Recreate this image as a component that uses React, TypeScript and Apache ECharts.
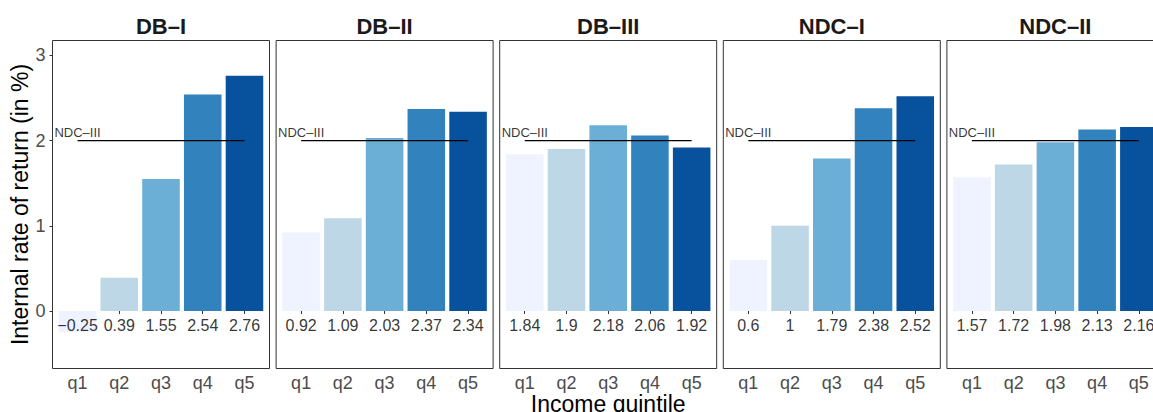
import React, { useEffect, useRef } from "react";
import * as echarts from "echarts";

// Pension schemes (facets) and income quintiles (bars within each facet)
const SCHEMES = ["DB–I", "DB–II", "DB–III", "NDC–I", "NDC–II"];
const QUINTILES = ["q1", "q2", "q3", "q4", "q5"];

// Internal rate of return (in %) by quintile, per scheme
const DB_I = [-0.25, 0.39, 1.55, 2.54, 2.76];
const DB_II = [0.92, 1.09, 2.03, 2.37, 2.34];
const DB_III = [1.84, 1.9, 2.18, 2.06, 1.92];
const NDC_I = [0.6, 1, 1.79, 2.38, 2.52];
const NDC_II = [1.57, 1.72, 1.98, 2.13, 2.16];
const IRR = [DB_I, DB_II, DB_III, NDC_I, NDC_II];

// Reference scheme drawn as a horizontal line in every facet
const NDC_III = 2;
const REF_NAME = "NDC–III";

const Y_TICKS = [0, 1, 2, 3];
const QUINTILE_COLORS = ["#EFF3FF", "#BDD7E7", "#6BAED6", "#3182BD", "#08519C"];

// Layout
const FONT = "'Liberation Sans', Arial, Helvetica, sans-serif";
const PANEL_LEFT = 52.5;
const PANEL_STEP = 223.6;
const PANEL_W = 217;
const PANEL_TOP = 40.5;
const PANEL_H = 328;
const UNIT = PANEL_W / 5.2; // category band incl. 0.6 band padding on both sides
const Y_MIN = -0.675;
const Y_MAX = 3.175;
const VALUE_LABEL_Y = -0.165;
const REF_LABEL_Y = 2.1;

const fmt = (v: number) => (v < 0 ? "\u2212" + Math.abs(v) : String(v));

export default function App() {
  const ref = useRef<HTMLDivElement>(null);

  useEffect(() => {
    if (!ref.current) return;
    const chart = echarts.init(ref.current, undefined, { renderer: "svg" });
    const panelX = (i: number) => PANEL_LEFT + i * PANEL_STEP;

    const grid = SCHEMES.map((_, i) => ({
      left: panelX(i) + 0.1 * UNIT,
      top: PANEL_TOP,
      width: 5 * UNIT,
      height: PANEL_H,
      show: false,
      containLabel: false,
      outerBoundsMode: "none",
    }));

    const xAxis = SCHEMES.map((_, i) => ({
      type: "category",
      gridIndex: i,
      data: QUINTILES,
      boundaryGap: true,
      axisLine: { show: false },
      axisTick: { show: true, alignWithLabel: true, length: 3, lineStyle: { color: "#333", width: 1 } },
      axisLabel: { color: "#4d4d4d", fontSize: 18, margin: 5, fontFamily: FONT },
      splitLine: { show: false },
      ...(i === 2
        ? {
            name: "Income quintile",
            nameLocation: "middle",
            nameGap: 24,
            nameMoveOverlap: false,
            nameTextStyle: { fontSize: 23, color: "#000", fontFamily: FONT },
          }
        : {}),
    }));

    const yAxis = SCHEMES.map((_, i) => ({
      type: "value",
      gridIndex: i,
      min: Y_MIN,
      max: Y_MAX,
      show: i === 0,
      offset: 0.1 * UNIT,
      axisLine: { show: false },
      axisTick: { show: true, length: 3, customValues: Y_TICKS, lineStyle: { color: "#333", width: 1 } },
      axisLabel: { customValues: Y_TICKS, color: "#4d4d4d", fontSize: 18, margin: 7, fontFamily: FONT },
      splitLine: { show: false },
      ...(i === 0
        ? {
            name: "Internal rate of return (in %)",
            nameLocation: "middle",
            nameRotate: 90,
            nameGap: 16,
            nameTextStyle: { fontSize: 23, color: "#000", fontFamily: FONT },
          }
        : {}),
    }));

    const series: any[] = [];
    IRR.forEach((vals, i) => {
      series.push({
        type: "bar",
        xAxisIndex: i,
        yAxisIndex: i,
        barWidth: "90%",
        data: vals.map((v, j) => ({ value: v, itemStyle: { color: QUINTILE_COLORS[j] } })),
        z: 2,
      });
      series.push({
        type: "line",
        xAxisIndex: i,
        yAxisIndex: i,
        data: [
          [QUINTILES[0], NDC_III],
          [QUINTILES[QUINTILES.length - 1], NDC_III],
        ],
        symbol: "none",
        lineStyle: { color: "#000", width: 1.2 },
        z: 3,
      });
      series.push({
        type: "scatter",
        xAxisIndex: i,
        yAxisIndex: i,
        data: vals.map((v, j) => [QUINTILES[j], VALUE_LABEL_Y, v]),
        symbolSize: 1,
        itemStyle: { color: "transparent" },
        label: {
          show: true,
          position: "inside",
          formatter: (p: any) => fmt(p.value[2]),
          color: "#000",
          fontSize: 16,
          fontFamily: FONT,
        },
        z: 4,
      });
      series.push({
        type: "scatter",
        xAxisIndex: i,
        yAxisIndex: i,
        data: [[QUINTILES[0], REF_LABEL_Y]],
        symbolSize: 1,
        itemStyle: { color: "transparent" },
        label: {
          show: true,
          position: "inside",
          formatter: REF_NAME,
          color: "#000",
          fontSize: 13,
          fontFamily: FONT,
        },
        z: 4,
      });
    });

    const graphic: any[] = [];
    SCHEMES.forEach((s, i) => {
      graphic.push({
        type: "rect",
        shape: { x: panelX(i), y: PANEL_TOP, width: PANEL_W, height: PANEL_H },
        style: { fill: "none", stroke: "#333", lineWidth: 1 },
        silent: true,
        z: 10,
      });
      graphic.push({
        type: "text",
        x: panelX(i) + PANEL_W / 2,
        y: 26,
        style: {
          text: s,
          fontSize: 22,
          fontWeight: "bold",
          fill: "#1a1a1a",
          align: "center",
          verticalAlign: "middle",
          fontFamily: FONT,
        },
        z: 10,
      });
    });

    chart.setOption({
      animation: false,
      backgroundColor: "#fff",
      textStyle: { fontFamily: FONT },
      grid,
      xAxis,
      yAxis,
      series,
      graphic,
    });

    return () => chart.dispose();
  }, []);

  return (
    <div
      ref={ref}
      style={{ position: "absolute", left: 0, top: 0, width: 1153, height: 412 }}
    />
  );
}
